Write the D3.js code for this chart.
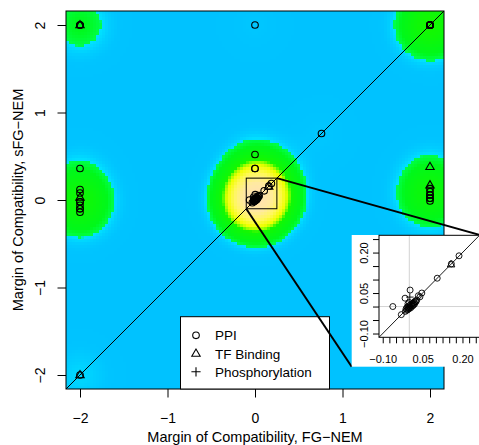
<!DOCTYPE html>
<html>
<head>
<meta charset="utf-8">
<script src="https://cdn.jsdelivr.net/npm/d3@7"></script>
<style>
  body { margin: 0; background: #fff; }
  text { font-family: "Liberation Sans", Arial, Helvetica, sans-serif; fill: #000; }
</style>
</head>
<body>
<svg id="chart" width="479" height="445"></svg>
<script>
// ---- data: margins of compatibility (FG-NEM on x, sFG-NEM on y) ----
const ppiX = [
  -2, -2, -2, 0, 2, 2, 2, 2, 2, 2, 2, 2, 2, 2,
  0.76, 0, 0, 0,
  -2, -2, -2, -2, -2, -2, -2, -2, -2, -2,
  2, 2, 2, 2, 2, 2, 2,
  -0.062, -0.03, 0.003, -0.016,
  -0.015, -0.012, -0.01, -0.008, -0.006, -0.004, -0.002, 0.0, 0.002, 0.004, 0.006, 0.008,
  0.01, 0.012, 0.014, 0.016, 0.018, 0.02, 0.022, 0.025, 0.028, -0.005, 0.0,
  0.034, 0.047, 0.04, 0.105, 0.158, 0.187
];
const ppiY = [
  2, 2, 2, 2, 2, 2, 2, 2, 2, 2, 2, 2, 2, 2,
  0.76, 0.52, 0.36, 0.36,
  0.36, 0.12, 0.08, -0.02, -0.02, -0.06, -0.1, -0.1, -0.14, -2,
  0.13, 0.095, 0.057, 0.057, 0.02, 0.02, -0.01,
  0.0, -0.03, 0.061, 0.031,
  -0.018, -0.008, -0.014, -0.002, -0.012, -0.006, 0.002, -0.008, -0.002, 0.006, -0.004, 0.004,
  0.01, 0.002, 0.012, 0.006, 0.016, 0.01, 0.02, 0.018, 0.024, 0.01, 0.015,
  0.04, 0.05, 0.036, 0.105, 0.158, 0.188
];
const tfX = [-2, -2, -2, 2, 2, 0.157];
const tfY = [2, 0.03, -2, 0.38, 0.17, 0.156];
const phosX = [0.002];
const phosY = [0.035];

const mainTicks = [-2, -1, 0, 1, 2];
const insetXTicks = d3.range(-0.1, 0.2501, 0.025);
const insetYTicks = d3.range(-0.1, 0.2501, 0.05);
const insetLabels = [-0.1, 0.05, 0.2];
const legendLabels = ["PPI", "TF Binding", "Phosphorylation"];
const zoomWindow = [-0.1, 0.25];

// ---- layout ----
const svg = d3.select("#chart");
const P = { left: 66, right: 444, top: 11, bottom: 389 };
const x = d3.scaleLinear().domain([-2.16, 2.16]).range([P.left, P.right]);
const y = d3.scaleLinear().domain([-2.16, 2.16]).range([P.bottom, P.top]);

const fmtMinus = s => s.replace("-", "\u2212");

// ---- density surface from all points ----
const allX = ppiX.concat(tfX, phosX);
const allY = ppiY.concat(tfY, phosY);
const nCells = 126;
const bw = 0.245;
const cellW = 4.32 / nCells;
const cells = [];
for (let i = 0; i < nCells; i++) {
  for (let j = 0; j < nCells; j++) {
    const cx = -2.16 + (i + 0.5) * cellW;
    const cy = -2.16 + (j + 0.5) * cellW;
    let d = 0;
    for (let k = 0; k < allX.length; k++) {
      const dx = cx - allX[k], dy = cy - allY[k];
      d += Math.exp(-(dx * dx + dy * dy) / (2 * bw * bw));
    }
    cells.push({ i, j, d });
  }
}
const color = d3.scaleLinear()
  .domain([0, 0.8, 1.6, 2.49, 2.5, 4, 10, 11.5, 14, 20, 28, 36])
  .range(["#00C2FF", "#00C4FF", "#00CEFF", "#00E2FF", "#00FF48", "#00F81A", "#14F800",
          "#8CFF00", "#F0FF00", "#FFF85A", "#FFEAA0", "#FFE0B3"])
  .clamp(true);

const gHeat = svg.append("g").attr("shape-rendering", "crispEdges");
gHeat.selectAll("rect").data(cells).join("rect")
  .attr("x", c => Math.round(x(-2.16 + c.i * cellW)))
  .attr("y", c => Math.round(y(-2.16 + (c.j + 1) * cellW)))
  .attr("width", c => Math.round(x(-2.16 + (c.i + 1) * cellW)) - Math.round(x(-2.16 + c.i * cellW)))
  .attr("height", c => Math.round(y(-2.16 + c.j * cellW)) - Math.round(y(-2.16 + (c.j + 1) * cellW)))
  .attr("fill", c => color(c.d));

// clip for the main panel
svg.append("clipPath").attr("id", "mainClip").append("rect")
  .attr("x", P.left).attr("y", P.top).attr("width", P.right - P.left).attr("height", P.bottom - P.top);

// ---- symbol helpers ----
function circle(g, cx, cy, r, sw) {
  g.append("circle").attr("cx", cx).attr("cy", cy).attr("r", r)
    .attr("fill", "none").attr("stroke", "#000").attr("stroke-width", sw);
}
function triangle(g, cx, cy, s, sw) {
  const h = s * 0.866;
  g.append("path")
    .attr("d", `M${cx},${cy - h * 0.62}L${cx - s / 2},${cy + h * 0.38}L${cx + s / 2},${cy + h * 0.38}Z`)
    .attr("fill", "none").attr("stroke", "#000").attr("stroke-width", sw);
}
function plus(g, cx, cy, a, sw) {
  g.append("path").attr("d", `M${cx - a},${cy}H${cx + a}M${cx},${cy - a}V${cy + a}`)
    .attr("stroke", "#000").attr("stroke-width", sw).attr("fill", "none");
}

// ---- main panel marks ----
const gMain = svg.append("g").attr("clip-path", "url(#mainClip)");
gMain.append("line")
  .attr("x1", x(-2.16)).attr("y1", y(-2.16)).attr("x2", x(2.16)).attr("y2", y(2.16))
  .attr("stroke", "#000").attr("stroke-width", 1);
ppiX.forEach((v, k) => circle(gMain, x(v), y(ppiY[k]), 3.3, 1.1));
tfX.forEach((v, k) => triangle(gMain, x(v), y(tfY[k]), 8.4, 1.1));
phosX.forEach((v, k) => plus(gMain, x(v), y(phosY[k]), 4.2, 1.1));

// zoom window outline
svg.append("rect")
  .attr("x", x(zoomWindow[0])).attr("y", y(zoomWindow[1]))
  .attr("width", x(zoomWindow[1]) - x(zoomWindow[0]))
  .attr("height", y(zoomWindow[0]) - y(zoomWindow[1]))
  .attr("fill", "none").attr("stroke", "#000").attr("stroke-width", 1);

// frame
svg.append("rect").attr("x", P.left).attr("y", P.top)
  .attr("width", P.right - P.left).attr("height", P.bottom - P.top)
  .attr("fill", "none").attr("stroke", "#000").attr("stroke-width", 1);

// ---- main axes ----
const xAxis = svg.append("g").attr("transform", `translate(0,${P.bottom})`)
  .call(d3.axisBottom(x).tickValues(mainTicks).tickSize(8.5).tickPadding(0)
    .tickFormat(d => fmtMinus(String(d))));
xAxis.select(".domain").remove();
xAxis.selectAll("line").attr("stroke", "#000");
xAxis.selectAll("text").attr("y", 33.5).attr("dy", 0)
  .attr("font-size", 14).attr("font-family", "Liberation Sans, Arial, sans-serif");

const yAxis = svg.append("g").attr("transform", `translate(${P.left},0)`)
  .call(d3.axisLeft(y).tickValues(mainTicks).tickSize(8.5).tickPadding(0)
    .tickFormat(d => fmtMinus(String(d))));
yAxis.select(".domain").remove();
yAxis.selectAll("line").attr("stroke", "#000");
yAxis.selectAll("text").attr("x", 0).attr("dy", 0).attr("text-anchor", "middle")
  .attr("transform", "translate(-21,0) rotate(-90)")
  .attr("font-size", 14).attr("font-family", "Liberation Sans, Arial, sans-serif");

svg.append("text").attr("x", (P.left + P.right) / 2).attr("y", 442)
  .attr("text-anchor", "middle").attr("font-size", 14.5)
  .text("Margin of Compatibility, FG\u2212NEM");
svg.append("text").attr("transform", `translate(23,${(P.top + P.bottom) / 2}) rotate(-90)`)
  .attr("text-anchor", "middle").attr("font-size", 14.5)
  .text("Margin of Compatibility, sFG\u2212NEM");

// ---- legend ----
const L = { x: 180.5, y: 316.7, w: 149, h: 72.3 };
const gLeg = svg.append("g");
gLeg.append("rect").attr("x", L.x).attr("y", L.y).attr("width", L.w).attr("height", L.h)
  .attr("fill", "#fff").attr("stroke", "#000").attr("stroke-width", 1);
const rowY = [335.3, 353.5, 371.8];
circle(gLeg, 196, rowY[0], 3.3, 1.1);
triangle(gLeg, 196, rowY[1], 8.4, 1.1);
plus(gLeg, 196, rowY[2], 4.6, 1.1);
legendLabels.forEach((t, k) => {
  gLeg.append("text").attr("x", 215).attr("y", rowY[k] + 5)
    .attr("font-size", 13.5).text(t);
});

// ---- connector lines to the inset ----
const I = { outerL: 351.7, outerR: 480, outerT: 235, outerB: 366.7,
            left: 379, right: 479.5, top: 235.3, bottom: 337.3 };
svg.append("line").attr("x1", x(zoomWindow[1])).attr("y1", y(zoomWindow[1]))
  .attr("x2", I.outerR).attr("y2", I.outerT).attr("stroke", "#000").attr("stroke-width", 2);
svg.append("line").attr("x1", x(zoomWindow[0])).attr("y1", y(zoomWindow[0]))
  .attr("x2", I.outerL).attr("y2", I.outerB).attr("stroke", "#000").attr("stroke-width", 2);

// ---- inset ----
const gIn = svg.append("g");
gIn.append("rect").attr("x", I.outerL).attr("y", I.outerT)
  .attr("width", I.outerR - I.outerL).attr("height", I.outerB - I.outerT).attr("fill", "#fff");
const xi = d3.scaleLinear().domain([-0.114, 0.264]).range([I.left, I.right]);
const yi = d3.scaleLinear().domain([-0.114, 0.264]).range([I.bottom, I.top]);

svg.append("clipPath").attr("id", "insetClip").append("rect")
  .attr("x", I.left).attr("y", I.top).attr("width", I.right - I.left).attr("height", I.bottom - I.top);
const gInP = gIn.append("g").attr("clip-path", "url(#insetClip)");
gInP.append("line").attr("x1", xi(0)).attr("x2", xi(0)).attr("y1", I.top).attr("y2", I.bottom)
  .attr("stroke", "#D3D3D3").attr("stroke-width", 1);
gInP.append("line").attr("y1", yi(0)).attr("y2", yi(0)).attr("x1", I.left).attr("x2", I.right)
  .attr("stroke", "#D3D3D3").attr("stroke-width", 1);
gInP.append("line").attr("x1", xi(-0.114)).attr("y1", yi(-0.114)).attr("x2", xi(0.264)).attr("y2", yi(0.264))
  .attr("stroke", "#000").attr("stroke-width", 0.9);
ppiX.forEach((v, k) => circle(gInP, xi(v), yi(ppiY[k]), 3, 0.9));
tfX.forEach((v, k) => triangle(gInP, xi(v), yi(tfY[k]), 7.6, 0.9));
phosX.forEach((v, k) => plus(gInP, xi(v), yi(phosY[k]), 3.8, 0.9));
gIn.append("rect").attr("x", I.left).attr("y", I.top)
  .attr("width", I.right - I.left).attr("height", I.bottom - I.top)
  .attr("fill", "none").attr("stroke", "#000").attr("stroke-width", 1);

const fmtIn = d => insetLabels.some(l => Math.abs(l - d) < 1e-9) ? fmtMinus(d3.format(".2f")(d)) : "";
const xiAxis = gIn.append("g").attr("transform", `translate(0,${I.bottom})`)
  .call(d3.axisBottom(xi).tickValues(insetXTicks).tickSize(6).tickPadding(0).tickFormat(fmtIn));
xiAxis.select(".domain").remove();
xiAxis.selectAll("line").attr("stroke", "#000");
xiAxis.selectAll("text").attr("y", 26).attr("dy", 0)
  .attr("font-size", 11).attr("font-family", "Liberation Sans, Arial, sans-serif");

const yiAxis = gIn.append("g").attr("transform", `translate(${I.left},0)`)
  .call(d3.axisLeft(yi).tickValues(insetYTicks).tickSize(6).tickPadding(0).tickFormat(fmtIn));
yiAxis.select(".domain").remove();
yiAxis.selectAll("line").attr("stroke", "#000");
yiAxis.selectAll("text").attr("x", 0).attr("dy", 0).attr("text-anchor", "middle")
  .attr("transform", "translate(-11,0) rotate(-90)")
  .attr("font-size", 11).attr("font-family", "Liberation Sans, Arial, sans-serif");
</script>
</body>
</html>
